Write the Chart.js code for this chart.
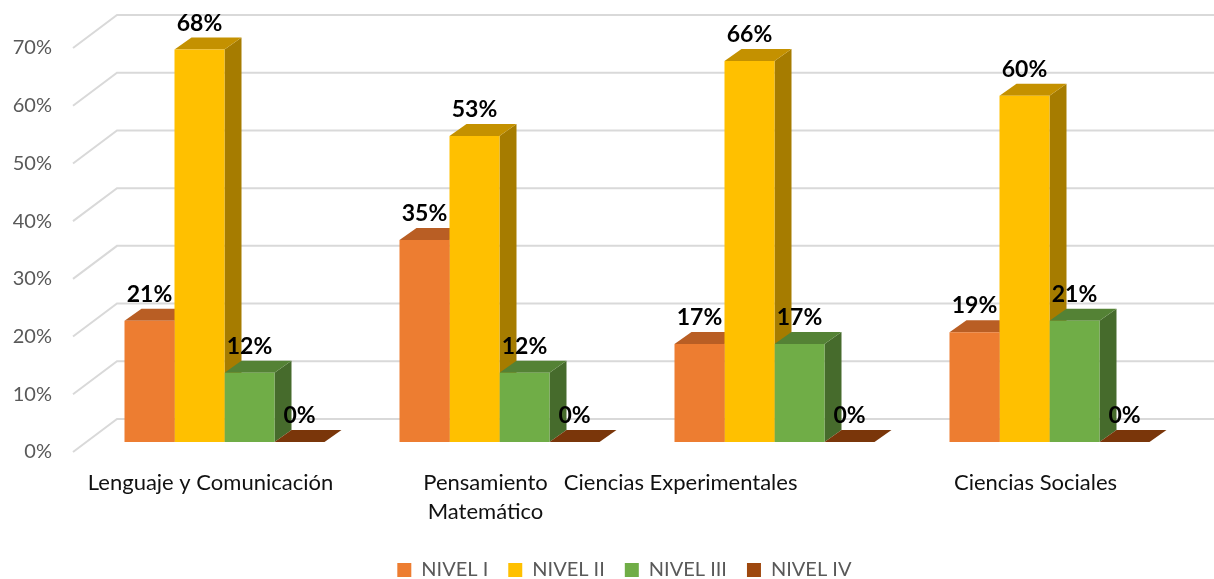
<!DOCTYPE html>
<html>
<head>
<meta charset="utf-8">
<script src="https://cdn.jsdelivr.net/npm/chart.js"></script>
<style>
  html, body { margin: 0; padding: 0; background: #ffffff; }
</style>
</head>
<body>
<canvas id="chartNiveles" width="1214" height="579"></canvas>
<script>
// categories and values (percent)
const areas = ['Lenguaje y Comunicación', ['Pensamiento', 'Matemático'], 'Ciencias Experimentales', 'Ciencias Sociales'];
const seriesNames = ['NIVEL I', 'NIVEL II', 'NIVEL III', 'NIVEL IV'];
const nivel1 = [21, 35, 17, 19];
const nivel2 = [68, 53, 66, 60];
const nivel3 = [12, 12, 17, 21];
const nivel4 = [0, 0, 0, 0];
const yTickValues = [0, 10, 20, 30, 40, 50, 60, 70];

// front / top / side colours of each series
const frontColors = ['#ED7D31', '#FFC000', '#70AD47', '#9E480E'];
const topColors = ['#B95E24', '#C49100', '#548235', '#7A360A'];
const sideColors = ['#A0521C', '#A67C00', '#466B2C', '#5E2A08'];

// fake 3d depth of the bars and of the walls
const DX = 17, DY = 12;

const box3d = {
    id: 'box3d',
    beforeDatasetsDraw(chart) {
        const ctx = chart.ctx;
        const yScale = chart.scales.y;
        const left = chart.chartArea.left;

        // gridlines: short diagonal on the side wall + line on the back wall
        ctx.save();
        ctx.strokeStyle = '#D9D9D9';
        ctx.lineWidth = 2;
        yScale.ticks.forEach(t => {
            const py = yScale.getPixelForValue(t.value);
            ctx.beginPath();
            ctx.moveTo(left - 14, py + 10);
            ctx.lineTo(left + 30, py - 23);
            ctx.lineTo(chart.width, py - 23);
            ctx.stroke();
        });

        // side and top faces, painted left to right so the nearer ones cover
        const bars = [];
        chart.data.datasets.forEach((ds, i) => {
            chart.getDatasetMeta(i).data.forEach(el => {
                const p = el.getProps(['x', 'y', 'base', 'width'], true);
                bars.push({ p, i });
            });
        });
        bars.sort((a, b) => a.p.x - b.p.x);
        bars.forEach(({ p, i }) => {
            const x1 = p.x - p.width / 2;
            const x2 = p.x + p.width / 2;
            ctx.fillStyle = sideColors[i];
            ctx.beginPath();
            ctx.moveTo(x2, p.y);
            ctx.lineTo(x2 + DX, p.y - DY);
            ctx.lineTo(x2 + DX, p.base - DY);
            ctx.lineTo(x2, p.base);
            ctx.closePath();
            ctx.fill();

            ctx.fillStyle = topColors[i];
            ctx.beginPath();
            ctx.moveTo(x1, p.y);
            ctx.lineTo(x2, p.y);
            ctx.lineTo(x2 + DX, p.y - DY);
            ctx.lineTo(x1 + DX, p.y - DY);
            ctx.closePath();
            ctx.fill();
        });
        ctx.restore();
    },
    afterDatasetsDraw(chart) {
        const ctx = chart.ctx;
        ctx.save();
        ctx.fillStyle = '#000000';
        ctx.font = 'bold 23px Lato';
        ctx.textAlign = 'center';
        ctx.textBaseline = 'alphabetic';
        chart.data.datasets.forEach((ds, i) => {
            chart.getDatasetMeta(i).data.forEach((el, j) => {
                const p = el.getProps(['x', 'y'], true);
                ctx.fillText(ds.data[j] + '%', p.x, p.y - DY - 7);
            });
        });
        ctx.restore();
    }
};

const values = [nivel1, nivel2, nivel3, nivel4];
const datasets = seriesNames.map((name, i) => ({
    label: name,
    data: values[i],
    backgroundColor: frontColors[i],
    borderWidth: 0,
    barPercentage: 1,
    categoryPercentage: 0.7273
}));

const ctx = document.getElementById('chartNiveles').getContext('2d');
new Chart(ctx, {
    type: 'bar',
    data: { labels: areas, datasets: datasets },
    plugins: [box3d],
    options: {
        responsive: false,
        animation: false,
        layout: { padding: { left: 0, right: 27, top: 38, bottom: -11 } },
        plugins: {
            tooltip: { enabled: false },
            legend: {
                position: 'bottom',
                fullSize: false,
                labels: {
                    boxWidth: 14,
                    boxHeight: 14,
                    padding: 20,
                    color: '#595959',
                    font: { family: 'Lato', size: 20 },
                    // a little trailing room pulls the row slightly left, as in the original
                    generateLabels: chart => {
                        const items = Chart.defaults.plugins.legend.labels.generateLabels(chart);
                        items[items.length - 1].text += '\u2003  ';
                        return items;
                    }
                }
            }
        },
        scales: {
            x: {
                afterFit: s => { s.height = 98; },
                grid: { display: false, drawTicks: false },
                border: { display: false },
                ticks: {
                    color: '#111111',
                    font: { family: 'Lato', size: 22, lineHeight: 1.32 },
                    padding: 26.5,
                    labelOffset: -14,
                    maxRotation: 0,
                    minRotation: 0,
                    autoSkip: false,
                    // the third label sits further left in the original
                    callback: function (v, i) {
                        const lab = this.getLabelForValue(v);
                        return i === 2 ? lab + '\u2003'.repeat(9) + '  ' : lab;
                    }
                }
            },
            y: {
                min: yTickValues[0],
                max: yTickValues[yTickValues.length - 1],
                afterFit: s => {
                    s.width = 87;
                    s.paddingTop = 0;
                    s.paddingBottom = 0;
                },
                grid: { display: false, drawTicks: false },
                border: { display: false },
                ticks: {
                    stepSize: yTickValues[1] - yTickValues[0],
                    color: '#595959',
                    font: { family: 'Lato', size: 20 },
                    padding: 35,
                    labelOffset: 10,
                    callback: v => v + '%'
                }
            }
        }
    }
});
</script>
</body>
</html>
